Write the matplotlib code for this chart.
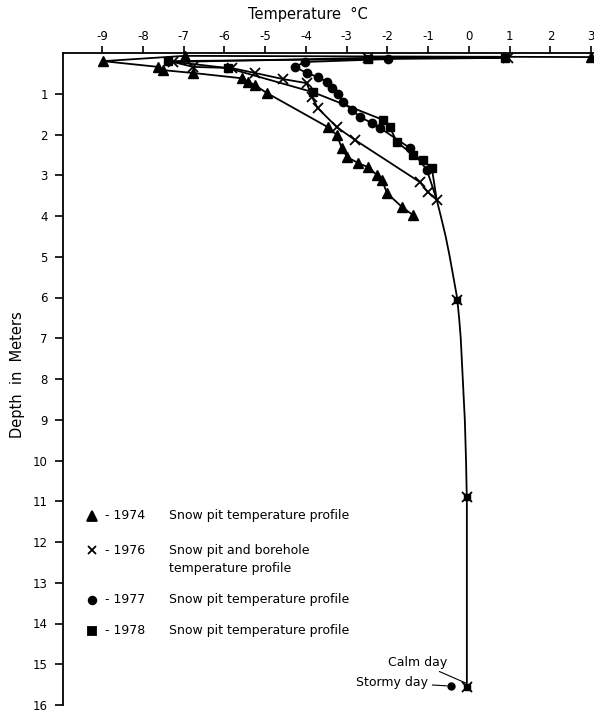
import matplotlib
matplotlib.use("Agg")
import matplotlib.pyplot as plt

# ---- data (temperature in deg C, depth in m) ----
t1974 = [3.0, -6.97, -8.98, -7.63, -7.51, -6.77, -5.57, -5.42, -5.25, -4.96,
         -3.46, -3.24, -3.12, -2.99, -2.72, -2.48, -2.26, -2.13, -2.01, -1.64, -1.37]
d1974 = [0.10, 0.07, 0.20, 0.34, 0.42, 0.49, 0.62, 0.70, 0.79, 0.98,
         1.82, 2.01, 2.33, 2.55, 2.70, 2.80, 2.99, 3.12, 3.44, 3.78, 3.98]

t1976 = [0.96, -2.48, -7.26, -6.77, -5.82, -5.25, -4.56, -3.98, -3.85, -3.71,
         -3.24, -2.80, -1.20, -1.01, -0.79]
d1976 = [0.12, 0.12, 0.22, 0.34, 0.37, 0.49, 0.64, 0.74, 1.08, 1.35,
         1.82, 2.13, 3.17, 3.41, 3.60]

# borehole curve (1976)
t_bore_curve = [-0.79, -0.74, -0.69, -0.63, -0.57, -0.47, -0.38, -0.29, -0.24, -0.20,
                -0.15, -0.10, -0.07, -0.05, -0.05, -0.05]
d_bore_curve = [3.60, 3.80, 4.0, 4.25, 4.5, 5.0, 5.5, 6.0, 6.5, 7.0,
                8.0, 9.0, 10.0, 11.0, 13.0, 15.56]
t_bore_pts = [-0.29, -0.05, -0.05]
d_bore_pts = [6.05, 10.9, 15.56]

t1977 = [-1.99, -4.02, -4.27, -3.98, -3.71, -3.48, -3.36, -3.21, -3.09, -2.87,
         -2.67, -2.38, -2.18, -1.45, -1.03]
d1977 = [0.15, 0.22, 0.34, 0.49, 0.59, 0.71, 0.86, 1.00, 1.20, 1.40,
         1.57, 1.72, 1.84, 2.33, 2.87]

t1978 = [0.88, -2.48, -7.39, -5.91, -3.83, -2.11, -1.94, -1.77, -1.37, -1.13, -0.91]
d1978 = [0.12, 0.15, 0.20, 0.37, 0.96, 1.64, 1.82, 2.18, 2.50, 2.63, 2.82]

t_stormy = [-0.44]
d_stormy = [15.53]

xticks = [-9, -8, -7, -6, -5, -4, -3, -2, -1, 0, 1, 2, 3]
yticks = list(range(1, 17))

legend_years = ["1974", "1976", "1977", "1978"]
legend_texts = ["Snow pit temperature profile",
                "Snow pit and borehole",
                "Snow pit temperature profile",
                "Snow pit temperature profile"]
legend_extra = "temperature profile"

# ---- figure ----
plt.rcParams['font.family'] = ['DejaVu Sans']
W, H = 594, 713
fig = plt.figure(figsize=(W / 100, H / 100), dpi=100)
ax = fig.add_axes([63 / W, 1 - 705 / H, (W - 63) / W, (705 - 53) / H])
ax.set_xlim(-9.96, 3.07)
ax.set_ylim(16, 0)

for s in ['right', 'bottom']:
    ax.spines[s].set_visible(False)
for s in ['left', 'top']:
    ax.spines[s].set_linewidth(1.3)

ax.xaxis.tick_top()
ax.set_xticks(xticks)
ax.set_xticklabels([str(v) for v in xticks], fontsize=8.5)
ax.set_yticks(yticks)
ax.set_yticklabels([str(v) for v in yticks], fontsize=8.5)
ax.tick_params(axis='x', direction='out', length=5, width=1.2, pad=2)
ax.tick_params(axis='y', direction='out', length=6, width=1.2, pad=5)

lw = 1.3
ax.plot(t1974, d1974, color='black', lw=lw, marker='^', ms=7, clip_on=False, zorder=3)
ax.plot(t1976, d1976, color='black', lw=lw, marker='x', ms=6.5, mew=1.3, clip_on=False, zorder=3)
ax.plot(t_bore_curve, d_bore_curve, color='black', lw=lw, zorder=2)
ax.plot(t_bore_pts, d_bore_pts, ls='none', color='black', marker='s', ms=5, zorder=3)
ax.plot(t_bore_pts, d_bore_pts, ls='none', color='black', marker='x', ms=7, mew=1.3, zorder=3)
ax.plot(t1977 + [t1976[-1]], d1977 + [d1976[-1]], color='black', lw=lw, zorder=2)
ax.plot(t1977, d1977, ls='none', color='black', marker='o', ms=6, zorder=3)
ax.plot(t1978 + [t1976[-1]], d1978 + [d1976[-1]], color='black', lw=lw, zorder=2)
ax.plot(t1978, d1978, ls='none', color='black', marker='s', ms=6, zorder=3)
ax.plot(t_stormy, d_stormy, ls='none', color='black', marker='o', ms=5, zorder=3)

# annotations
ax.annotate("Calm day", xy=(t_bore_pts[-1] - 0.03, d_bore_pts[-1] - 0.1), xytext=(-0.52, 14.95),
            ha='right', va='center', fontsize=9,
            arrowprops=dict(arrowstyle='-', color='black', lw=0.8, shrinkA=0, shrinkB=0))
ax.annotate("Stormy day", xy=(t_stormy[0] - 0.1, d_stormy[0]), xytext=(-1.0, 15.45),
            ha='right', va='center', fontsize=9,
            arrowprops=dict(arrowstyle='-', color='black', lw=0.8, shrinkA=1, shrinkB=0))

# legend
markers = ['^', 'x', 'o', 's']
msizes = [6.5, 6, 5.5, 5.5]
ys = [11.36, 12.2, 13.42, 14.18]
for m, msz, yy, yr, txt in zip(markers, msizes, ys, legend_years, legend_texts):
    ax.plot([-9.24], [yy], marker=m, ms=msz, mew=1.3, color='black', ls='none')
    ax.text(-8.93, yy, "- " + yr, fontsize=9, va='center', ha='left')
    ax.text(-7.36, yy, txt, fontsize=9, va='center', ha='left')
ax.text(-7.36, 12.64, legend_extra, fontsize=9, va='center', ha='left')

fig.text(308 / W, 1 - 14 / H, "Temperature  °C", ha='center', va='center', fontsize=10.5)
fig.text(18 / W, 1 - 375 / H, "Depth  in  Meters", ha='center', va='center', fontsize=10.5,
         rotation=90)

fig.savefig("out.png", dpi=100)
